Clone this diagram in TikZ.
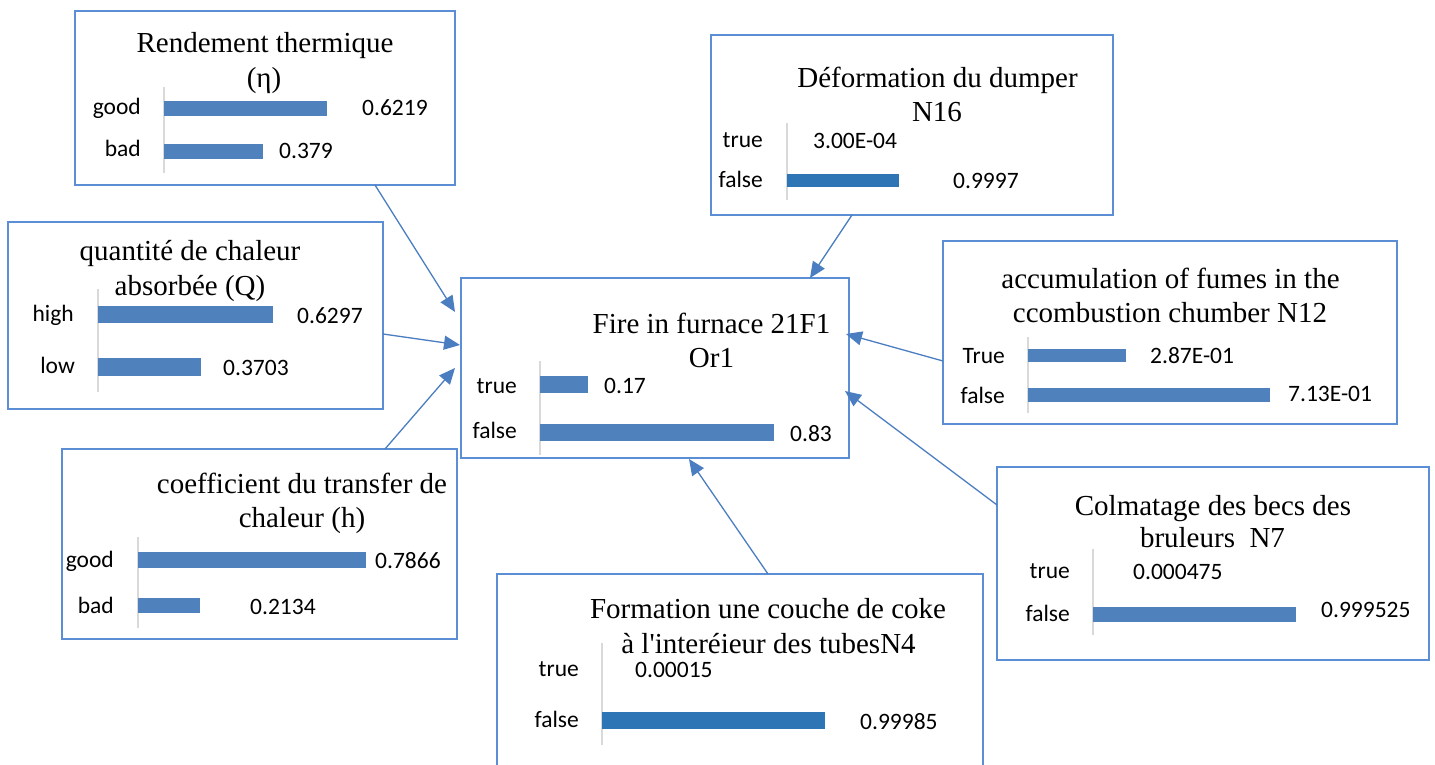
\documentclass[tikz,border=0pt]{standalone}
\usepackage{fontspec}
\setmainfont{Liberation Serif}
\newfontfamily\labfont{Carlito}
\usetikzlibrary{arrows.meta,calc}
\definecolor{boxc}{RGB}{91,142,212}
\definecolor{barc}{RGB}{79,129,189}
\definecolor{bardark}{RGB}{46,117,182}
\definecolor{axisc}{RGB}{217,217,217}
\definecolor{arrowc}{RGB}{74,126,193}
\tikzset{
  netbox/.style={draw=boxc, line width=1.2pt, inner sep=0pt, outer sep=0pt, anchor=north west},
  ttl/.style={font=\fontsize{29}{34}\selectfont, inner sep=0pt, anchor=base},
  lab/.style={font=\labfont\fontsize{23.5}{28}\selectfont, inner sep=0pt, anchor=base east},
  val/.style={font=\labfont\fontsize{23.5}{28}\selectfont, inner sep=0pt, anchor=base west},
  bar/.style={fill=barc},
  darkbar/.style={fill=bardark},
  axisline/.style={draw=axisc, line width=1.6pt},
  link/.style={draw=arrowc, line width=1.3pt, -{Triangle[length=16pt,width=14pt]}}
}
\begin{document}
\begin{tikzpicture}[x=1pt,y=-1pt]
\useasboundingbox (0,0) rectangle (1435,765);
\clip (0,0) rectangle (1435,765);

% ---- boxes ----
\node[netbox, minimum width=380pt, minimum height=174pt] (b1) at (75,11) {};
\node[netbox, minimum width=375pt, minimum height=187pt] (b2) at (8,222) {};
\node[netbox, minimum width=395pt, minimum height=190pt] (b3) at (62,449) {};
\node[netbox, minimum width=388pt, minimum height=180pt] (c) at (461,278) {};
\node[netbox, minimum width=402pt, minimum height=180pt] (b5) at (711,35) {};
\node[netbox, minimum width=454pt, minimum height=183pt] (b6) at (943,241) {};
\node[netbox, minimum width=432pt, minimum height=193pt] (b7) at (997,467) {};
\node[netbox, minimum width=486pt, minimum height=220pt] (b8) at (497,574) {};

% ---- Rendement thermique ----
\node[ttl] (t1a) at (265,53) {Rendement thermique};
\node[ttl] (t1b) at (264,88) {(η)};
\draw[axisline] (164,87) -- (164,173);
\fill[bar] (164,101) rectangle (327,116);
\fill[bar] (164,144) rectangle (263,159);
\node[lab] (l1a) at (141,115) {good};
\node[lab] (l1b) at (141,157) {bad};
\node[val] (v1a) at (362,116) {0.6219};
\node[val] (v1b) at (279,158) {0.379};

% ---- quantité de chaleur ----
\node[ttl] (t2a) at (190,260) {quantité de chaleur};
\node[ttl] (t2b) at (190,295) {absorbée (Q)};
\draw[axisline] (98,289) -- (98,392);
\fill[bar] (98,306) rectangle (273,323);
\fill[bar] (98,358) rectangle (201,376);
\node[lab] (l2a) at (74,321) {high};
\node[lab] (l2b) at (75,373) {low};
\node[val] (v2a) at (297,323) {0.6297};
\node[val] (v2b) at (223,375) {0.3703};

% ---- coefficient du transfert ----
\node[ttl] (t3a) at (302,493) {coefficient du transfer de};
\node[ttl] (t3b) at (302,527) {chaleur (h)};
\draw[axisline] (138,537) -- (138,628);
\fill[bar] (138,552) rectangle (366,568);
\fill[bar] (138,598) rectangle (200,613);
\node[lab] (l3a) at (114,567) {good};
\node[lab] (l3b) at (114,613) {bad};
\node[val] (v3a) at (375,568) {0.7866};
\node[val] (v3b) at (250,614) {0.2134};

% ---- Fire in furnace ----
\node[ttl] (tca) at (711.5,333) {Fire in furnace 21F1};
\node[ttl] (tcb) at (711.5,367) {Or1};
\draw[axisline] (540,361) -- (540,455);
\fill[bar] (540,376) rectangle (588,393);
\fill[bar] (540,424) rectangle (774,441);
\node[lab] (lca) at (517,393) {true};
\node[lab] (lcb) at (517,438) {false};
\node[val] (vca) at (604,393) {0.17};
\node[val] (vcb) at (790,441) {0.83};

% ---- Déformation du dumper ----
\node[ttl] (t5a) at (937.5,88) {Déformation du dumper};
\node[ttl] (t5b) at (937,122) {N16};
\draw[axisline] (787,123) -- (787,200);
\fill[darkbar] (787,174) rectangle (899,187);
\node[lab] (l5a) at (763,148) {true};
\node[lab] (l5b) at (763,187) {false};
\node[val] (v5a) at (813,149) {3.00E-04};
\node[val] (v5b) at (953,188) {0.9997};

% ---- accumulation of fumes ----
\node[ttl] (t6a) at (1170.5,288) {accumulation of fumes in the};
\node[ttl] (t6b) at (1170,322) {ccombustion chumber N12};
\draw[axisline] (1028,337) -- (1028,413);
\fill[bar] (1028,349) rectangle (1126,362);
\fill[bar] (1028,388) rectangle (1270,402);
\node[lab] (l6a) at (1005,363) {True};
\node[lab] (l6b) at (1005,403) {false};
\node[val] (v6a) at (1150,363) {2.87E-01};
\node[val] (v6b) at (1288,401) {7.13E-01};

% ---- Colmatage ----
\node[ttl] (t7a) at (1213,515) {Colmatage des becs des};
\node[ttl] (t7b) at (1212.5,547) {bruleurs\ \ N7};
\draw[axisline] (1093,549) -- (1093,635);
\fill[bar] (1093,607) rectangle (1296,622);
\node[lab] (l7a) at (1070,578) {true};
\node[lab] (l7b) at (1070,621) {false};
\node[val] (v7a) at (1133,579) {0.000475};
\node[val] (v7b) at (1321,617) {0.999525};

% ---- Formation coke ----
\node[ttl] (t8a) at (768,618) {Formation une couche de coke};
\node[ttl] (t8b) at (768.5,653) {à l\textquotesingle interéieur des tubesN4};
\draw[axisline] (602,643) -- (602,745);
\fill[darkbar] (602,712) rectangle (825,729);
\node[lab] (l8a) at (579,676) {true};
\node[lab] (l8b) at (579,727) {false};
\node[val] (v8a) at (635,677) {0.00015};
\node[val] (v8b) at (860,729) {0.99985};

% ---- connectors into the central node ----
\draw[link] ($(b1.south west)+(300,0)$) -- ($(c.north west)+(-6,34)$);
\draw[link] ($(b2.north east)+(0,112)$) -- ($(c.north west)+(-1,67)$);
\draw[link] ($(b3.north west)+(323,0)$) -- ($(c.north west)+(-6,90)$);
\draw[link] ($(b5.south west)+(141,0)$) -- ($(c.north west)+(349,0)$);
\draw[link] ($(b6.north west)+(0,120)$) -- ($(c.north east)+(-3,56)$);
\draw[link] ($(b7.north west)+(0,38)$) -- ($(c.north east)+(-4,113)$);
\draw[link] ($(b8.north west)+(271,0)$) -- ($(c.south west)+(228,1)$);
\end{tikzpicture}
\end{document}
